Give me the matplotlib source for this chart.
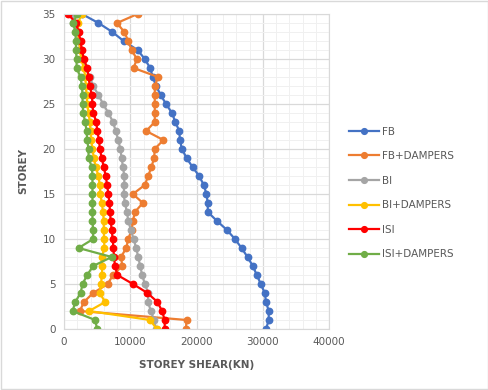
"""Storey shear profiles for fixed-base and base-isolated cases, with and without dampers."""

import matplotlib

matplotlib.use("Agg")
import matplotlib.pyplot as plt
from matplotlib.patches import Rectangle
from matplotlib.ticker import MultipleLocator

storeys = list(range(36))

fb = [30500, 30900, 30900, 30500, 30300, 29700, 29100, 28500, 27700, 26800,
      25800, 24600, 23100, 21700, 21700, 21500, 21100, 20400, 19400, 18500,
      17800, 17500, 17400, 16800, 16300, 15400, 14600, 13900, 13400, 13000,
      12200, 11100, 9000, 7300, 5200, 2700]
fb_dampers = [18400, 18500, 2400, 3000, 4400, 6600, 7400, 8800, 8600, 9400,
              9700, 10200, 10400, 10700, 11900, 10400, 12200, 12700, 13200, 13600,
              13700, 15000, 12400, 13700, 13700, 13700, 13700, 13700, 14200, 10500,
              11000, 10200, 9700, 9100, 8000, 11100]
bi = [13900, 13600, 13100, 12700, 12700, 12200, 11800, 11500, 11200, 10900,
      10500, 10100, 9700, 9500, 9200, 9000, 9100, 9100, 8900, 8700,
      8500, 8200, 7800, 7400, 6700, 5900, 5200, 4400, 3900, 3300,
      2800, 2500, 2200, 1900, 1400, 1500]
bi_dampers = [14000, 13000, 3800, 6200, 5400, 5600, 5700, 5800, 5700, 6100,
              6050, 6000, 6000, 5900, 5700, 5500, 5400, 5200, 4800, 4500,
              4300, 4100, 4000, 3900, 3700, 3500, 3400, 3300, 3200, 3000,
              2600, 2400, 2300, 2100, 2100, 2700]
isi = [15200, 15200, 14800, 14100, 12600, 10400, 8050, 7700, 7550, 7450,
       7350, 7200, 7050, 6950, 6850, 6700, 6500, 6300, 6000, 5700,
       5400, 5300, 5000, 4900, 4400, 4300, 4200, 3900, 3700, 3500,
       3000, 2700, 2500, 2200, 1800, 600]
isi_dampers = [5000, 4700, 1300, 1700, 2500, 2800, 3500, 4400, 7200, 2200,
               4400, 4400, 4300, 4300, 4300, 4300, 4300, 4300, 4200, 3700,
               3700, 3500, 3400, 3200, 2900, 2800, 2800, 2700, 2500, 1900,
               1900, 1800, 1800, 1700, 1400, 2000]

series = [
    ("FB", fb, "#4472C4"),
    ("FB+DAMPERS", fb_dampers, "#ED7D31"),
    ("BI", bi, "#A5A5A5"),
    ("BI+DAMPERS", bi_dampers, "#FFC000"),
    ("ISI", isi, "#FF0000"),
    ("ISI+DAMPERS", isi_dampers, "#70AD47"),
]

TEXT = "#595959"

fig = plt.figure(figsize=(4.89, 3.90), dpi=100)
fig.patch.set_facecolor("white")
fig.patches.append(Rectangle((0.002, 0.003), 0.996, 0.994, transform=fig.transFigure,
                             fill=False, edgecolor="#d9d9d9", linewidth=1))

ax = fig.add_axes([64 / 489, 1 - 329 / 390, 265 / 489, 315 / 390])
for name, values, color in series:
    ax.plot(values, storeys, color=color, linewidth=1.6, marker="o",
            markersize=4.6, label=name)

ax.set_xlim(0, 40000)
ax.set_ylim(0, 35)
ax.xaxis.set_major_locator(MultipleLocator(10000))
ax.xaxis.set_minor_locator(MultipleLocator(2000))
ax.yaxis.set_major_locator(MultipleLocator(5))
ax.yaxis.set_minor_locator(MultipleLocator(1))
ax.grid(which="major", color="#d9d9d9", linewidth=0.9)
ax.grid(which="minor", color="#f0f0f0", linewidth=0.7)
ax.set_axisbelow(True)
ax.tick_params(which="both", length=0, labelsize=7.5, labelcolor=TEXT, pad=6)
for spine in ax.spines.values():
    spine.set_color("#d9d9d9")

ax.set_xlabel("STOREY SHEAR(KN)", fontsize=7.5, color=TEXT, fontweight="bold", labelpad=9)
ax.set_ylabel("STOREY", fontsize=7.5, color=TEXT, fontweight="bold", labelpad=10)

leg = fig.legend(loc="center left", bbox_to_anchor=(340 / 489, 1 - 193 / 390),
                 frameon=False, fontsize=7.5, labelspacing=1.4, handlelength=2.8,
                 handletextpad=0.3, markerscale=0.9)
for text in leg.get_texts():
    text.set_color(TEXT)

fig.savefig("out.png", dpi=100)
